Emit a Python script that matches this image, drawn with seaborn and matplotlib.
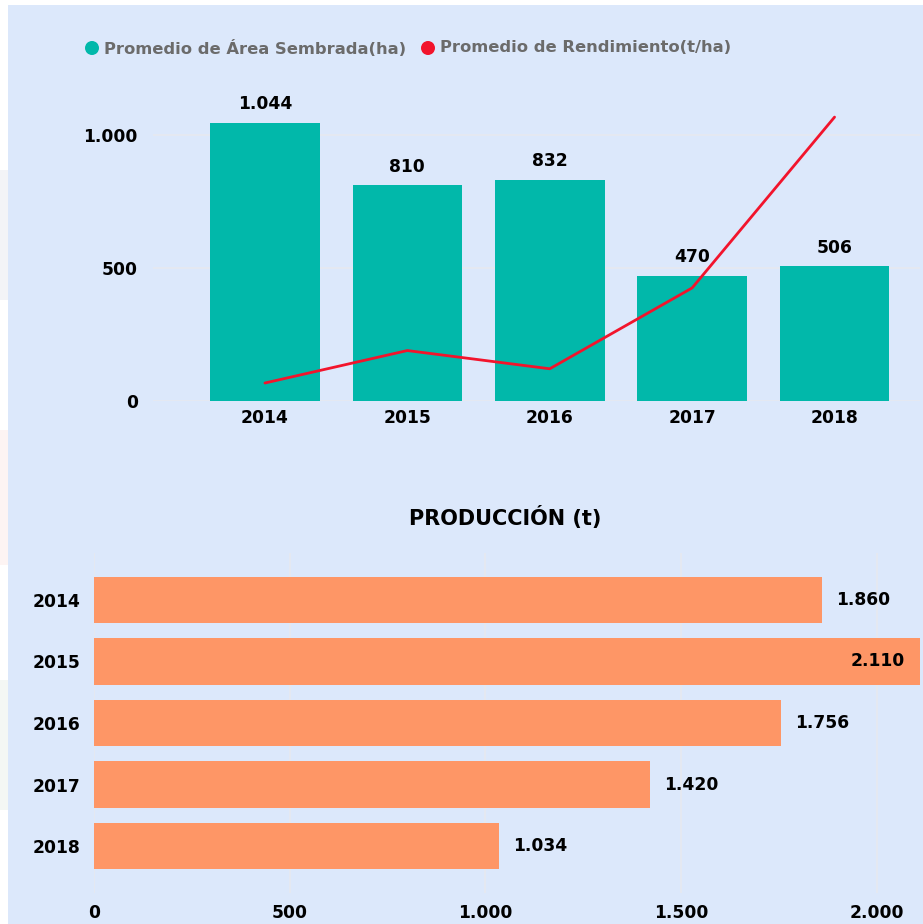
import matplotlib
matplotlib.use("Agg")
import matplotlib.pyplot as plt
import seaborn as sns
import pandas as pd
from matplotlib.patches import Rectangle, Circle

# ---- data ----
years = ["2014", "2015", "2016", "2017", "2018"]
area_ha = [1044, 810, 832, 470, 506]
rendimiento = [1.78, 2.35, 2.03, 3.45, 6.45]
produccion = [1860, 2110, 1756, 1420, 1034]
area_labels = ["1.044", "810", "832", "470", "506"]
prod_labels = ["1.860", "2.110", "1.756", "1.420", "1.034"]
area_ticks = [0, 500, 1000]
area_ticklabels = ["0", "500", "1.000"]
prod_ticks = [0, 500, 1000, 1500, 2000]
prod_ticklabels = ["0", "500", "1.000", "1.500", "2.000"]

TEAL = "#01b8aa"
RED = "#f2142c"
ORANGE = "#fe9666"
BG = "#dce8fb"
GRID = "#e6e9ef"
FS = 12.3

sns.set_theme(style="white")
plt.rcParams["font.family"] = ["DejaVu Sans"]

W, H = 923, 924
fig = plt.figure(figsize=(W / 100, H / 100), dpi=100)
fig.patch.set_facecolor("white")

def fx(px):
    return px / W

def fy(py):
    return 1 - py / H

bg = fig.add_axes([0, 0, 1, 1], zorder=-5)
bg.set_xlim(0, 1)
bg.set_ylim(0, 1)
bg.axis("off")
# faint decorations on the left margin
bg.add_patch(Rectangle((0, fy(300)), fx(8), (300 - 170) / H, facecolor="#f3f4f7", edgecolor="none"))
bg.add_patch(Rectangle((0, fy(565)), fx(8), (565 - 430) / H, facecolor="#fdf4f3", edgecolor="none"))
bg.add_patch(Rectangle((0, fy(810)), fx(8), (810 - 680) / H, facecolor="#f4f7f4", edgecolor="none"))
bg.add_patch(Rectangle((8 / W, 0), 1, 1 - 5 / H, facecolor=BG, edgecolor="none"))
# legend markers
bg.add_patch(Circle((fx(92), fy(48)), 7 / W, facecolor=TEAL, edgecolor="none"))
bg.add_patch(Circle((fx(428), fy(48)), 7 / W, facecolor=RED, edgecolor="none"))

# ---- top chart ----
ax = fig.add_axes([fx(153), fy(401), fx(920) - fx(153), fy(100) - fy(401)])
ax.set_facecolor("none")
df1 = pd.DataFrame({"year": years, "area": area_ha})
sns.barplot(data=df1, x="year", y="area", color=TEAL, width=0.77, ax=ax,
            saturation=1, zorder=3, edgecolor="none", linewidth=0)
ax.set_xlim(-0.786, 4.6)
ax.set_ylim(0, 1131)
ax.set_yticks(area_ticks)
ax.set_yticklabels(area_ticklabels)
for y in area_ticks:
    ax.axhline(y, color=GRID, lw=1.2, zorder=1)
for i, lab in enumerate(area_labels):
    ax.annotate(lab, (i, area_ha[i]), xytext=(0, 7), textcoords="offset points",
                ha="center", va="bottom", fontsize=FS, fontweight="bold", color="black")
ax.set_xlabel("")
ax.set_ylabel("")
for s in ax.spines.values():
    s.set_visible(False)
ax.tick_params(axis="both", length=0, labelsize=FS, colors="black")
ax.tick_params(axis="y", pad=11)
ax.tick_params(axis="x", pad=6)
for t in ax.get_xticklabels() + ax.get_yticklabels():
    t.set_fontweight("bold")

ax2 = ax.twinx()
df2 = pd.DataFrame({"year": years, "rend": rendimiento})
sns.lineplot(data=df2, x="year", y="rend", color=RED, lw=2, ax=ax2, zorder=5)
ax2.set_ylim(1.464, 6.75)
ax2.set_yticks([])
ax2.set_ylabel("")
ax2.set_xlabel("")
for s in ax2.spines.values():
    s.set_visible(False)

# legend text
fig.text(fx(104), fy(48), "Promedio de Área Sembrada(ha)", ha="left", va="center",
         fontsize=11.8, fontweight="bold", color="#6b6b6b")
fig.text(fx(440), fy(48), "Promedio de Rendimiento(t/ha)", ha="left", va="center",
         fontsize=11.8, fontweight="bold", color="#6b6b6b")

# ---- bottom chart ----
fig.text(fx(505), fy(517), "PRODUCCIÓN (t)", ha="center", va="center",
         fontsize=15, fontweight="bold", color="black")

bx = fig.add_axes([fx(94), fy(893), 1 - fx(94), fy(553) - fy(893)])
bx.set_facecolor("none")
df3 = pd.DataFrame({"year": years, "prod": produccion})
sns.barplot(data=df3, y="year", x="prod", color=ORANGE, width=0.76, ax=bx,
            saturation=1, orient="h", zorder=3, edgecolor="none", linewidth=0)
bx.set_xlim(0, 2118)
bx.set_ylim(4.764, -0.764)
bx.set_xticks(prod_ticks)
bx.set_xticklabels(prod_ticklabels)
for x in prod_ticks:
    bx.axvline(x, color=GRID, lw=1.2, zorder=1)
for i, lab in enumerate(prod_labels):
    if produccion[i] > 2000:
        bx.annotate(lab, (produccion[i], i), xytext=(-11, 0), textcoords="offset points",
                    ha="right", va="center", fontsize=FS, fontweight="bold", color="black",
                    zorder=6)
    else:
        bx.annotate(lab, (produccion[i], i), xytext=(10, 0), textcoords="offset points",
                    ha="left", va="center", fontsize=FS, fontweight="bold", color="black")
bx.set_xlabel("")
bx.set_ylabel("")
for s in bx.spines.values():
    s.set_visible(False)
bx.tick_params(axis="both", length=0, labelsize=FS, colors="black")
bx.tick_params(axis="y", pad=10)
bx.tick_params(axis="x", pad=8)
for t in bx.get_xticklabels() + bx.get_yticklabels():
    t.set_fontweight("bold")

fig.savefig("out.png", dpi=100, facecolor=fig.get_facecolor())
